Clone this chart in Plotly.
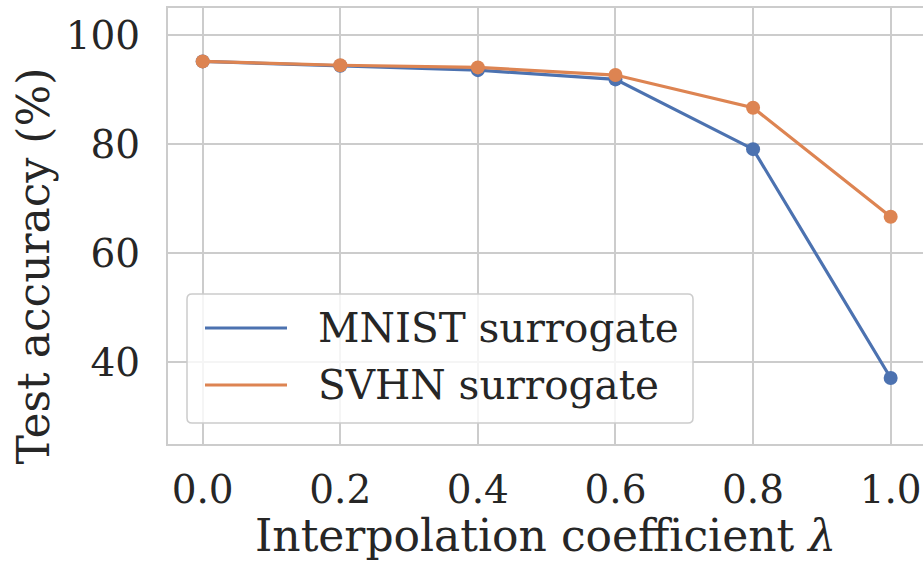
import plotly.graph_objects as go

lambdas = [0.0, 0.2, 0.4, 0.6, 0.8, 1.0]
mnist_acc = [95.2, 94.4, 93.6, 91.9, 79.1, 37.1]
svhn_acc = [95.2, 94.5, 94.1, 92.7, 86.7, 66.7]
series_names = ["MNIST surrogate", "SVHN surrogate"]
colors = ["#4C72B0", "#DD8452"]
x_ticks = [0.0, 0.2, 0.4, 0.6, 0.8, 1.0]
x_tick_labels = ["0.0", "0.2", "0.4", "0.6", "0.8", "1.0"]
y_ticks = [40, 60, 80, 100]
x_label = "Interpolation coefficient <i>λ</i>"
y_label = "Test accuracy (%)"

FONT = "DejaVu Serif"
TXT = "#262626"
GRID = "#cccccc"
TICK_SIZE = 39
LABEL_SIZE = 44

W, H = 923, 561
ML, MR, MT, MB = 168, 0, 8, 117
PW, PH = W - ML - MR, H - MT - MB


def px_x(px):
    return (px - ML) / PW


def px_y(py):
    return (H - MB - py) / PH


fig = go.Figure()
for name, vals, col in zip(series_names, [mnist_acc, svhn_acc], colors):
    fig.add_trace(go.Scatter(
        x=lambdas, y=vals, name=name, mode="lines+markers",
        line=dict(color=col, width=3.2),
        marker=dict(color=col, size=14),
        showlegend=False,
    ))

# manual legend (matplotlib style: long line handles, rounded frame)
bx0, bx1, by0, by1 = px_x(187), px_x(693), px_y(423), px_y(294)
rx, ry = 5 / PW, 5 / PH
frame = (f"M{bx0+rx},{by0} L{bx1-rx},{by0} Q{bx1},{by0} {bx1},{by0+ry} "
         f"L{bx1},{by1-ry} Q{bx1},{by1} {bx1-rx},{by1} L{bx0+rx},{by1} "
         f"Q{bx0},{by1} {bx0},{by1-ry} L{bx0},{by0+ry} Q{bx0},{by0} {bx0+rx},{by0} Z")
shapes = [dict(type="path", path=frame, xref="paper", yref="paper",
               fillcolor="rgba(255,255,255,0.8)", line=dict(color=GRID, width=1.5),
               layer="above")]
annotations = []
for i, (name, col) in enumerate(zip(series_names, colors)):
    yc = 328 + i * 57
    shapes.append(dict(type="line", xref="paper", yref="paper",
                       x0=px_x(205), x1=px_x(287), y0=px_y(yc), y1=px_y(yc),
                       line=dict(color=col, width=3.2), layer="above"))
    annotations.append(dict(text=name, xref="paper", yref="paper",
                            x=px_x(316), y=px_y(yc), xanchor="left", yanchor="middle",
                            showarrow=False,
                            font=dict(family=FONT, size=40.5, color=TXT)))

# y-axis label
annotations.append(dict(text=y_label, xref="paper", yref="paper",
                        x=px_x(33), y=px_y(266.5), xanchor="center", yanchor="middle",
                        textangle=-90, showarrow=False,
                        font=dict(family=FONT, size=LABEL_SIZE, color=TXT)))

fig.update_layout(
    width=W, height=H,
    margin=dict(l=ML, r=MR, t=MT, b=MB),
    paper_bgcolor="white", plot_bgcolor="white",
    font=dict(family=FONT, size=TICK_SIZE, color=TXT),
    showlegend=False,
    shapes=shapes, annotations=annotations,
)
fig.update_xaxes(
    range=[-0.0504, 1.0470], tickvals=x_ticks, ticktext=x_tick_labels,
    tickfont=dict(family=FONT, size=TICK_SIZE, color=TXT),
    showgrid=True, gridcolor=GRID, gridwidth=1.5, zeroline=False,
    showline=True, linecolor=GRID, linewidth=2, mirror=True,
    ticks="", ticklabelstandoff=10,
    title=dict(text=x_label, standoff=14,
               font=dict(family=FONT, size=LABEL_SIZE, color=TXT)),
)
fig.update_yaxes(
    range=[25, 105], tickvals=y_ticks,
    tickfont=dict(family=FONT, size=TICK_SIZE, color=TXT),
    showgrid=True, gridcolor=GRID, gridwidth=1.5, zeroline=False,
    showline=True, linecolor=GRID, linewidth=2, mirror=False,
    ticks="", ticklabelstandoff=18,
)

fig.write_html("out.html")
